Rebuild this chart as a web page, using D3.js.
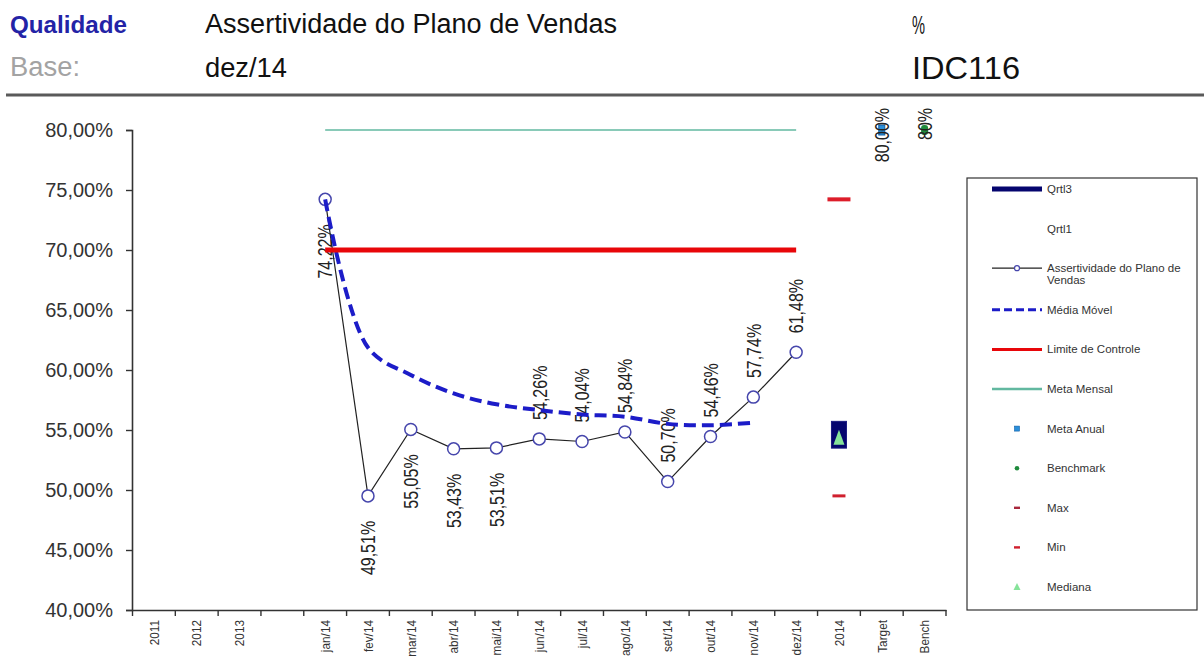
<!DOCTYPE html>
<html><head><meta charset="utf-8">
<script src="https://cdn.jsdelivr.net/npm/d3@7"></script>
<style>
body{margin:0;background:#fff}
svg{display:block;font-family:"Liberation Sans",Arial,sans-serif}
</style>
</head><body>
<svg id="c" width="1204" height="658"></svg>
<script>
// ---------- data ----------
const categories = ["2011","2012","2013"," ","jan/14","fev/14","mar/14","abr/14","mai/14","jun/14","jul/14","ago/14","set/14","out/14","nov/14","dez/14","2014","Target","Bench"];
const months = ["jan/14","fev/14","mar/14","abr/14","mai/14","jun/14","jul/14","ago/14","set/14","out/14","nov/14","dez/14"];
const assertividade = [74.22,49.51,55.05,53.43,53.51,54.26,54.04,54.84,50.70,54.46,57.74,61.48];
const mediaMovelMonths = ["jan/14","fev/14","mar/14","abr/14","mai/14","jun/14","jul/14","ago/14","set/14","out/14","nov/14"];
const mediaMovel = [74.22,61.87,59.59,58.05,57.14,56.66,56.29,56.11,55.51,55.40,55.61];
const limiteControle = [70,70,70,70,70,70,70,70,70,70,70,70];
const metaMensal = [80,80,80,80,80,80,80,80,80,80,80,80];
const labelSide = ["below","below","below","below","below","above","above","above","above","above","above","above"];
const quartil1 = [53.49];
const quartil3 = [55.72];
const mediana = [54.36];
const maximo = [74.22];
const minimo = [49.51];
const metaAnual = [80];
const benchmark = [80];
const yTicks = [40,45,50,55,60,65,70,75,80];
const legendLabels = ["Qrtl3","Qrtl1","Assertividade do Plano de Vendas","Média Móvel","Limite de Controle","Meta Mensal","Meta Anual","Benchmark","Max","Min","Mediana"];

// ---------- setup ----------
const svg = d3.select("#c");
const x = d3.scaleBand().domain(categories).range([132.5, 946]);
const y = d3.scaleLinear().domain([40, 80]).range([610, 130]);
const cx = c => x(c) + x.bandwidth() / 2;
const pct = v => v.toFixed(2).replace(".", ",") + "%";

// ---------- header ----------
const hdr = (tx, xx, yy, size, fill, len, bold) => svg.append("text")
  .attr("x", xx).attr("y", yy).attr("font-size", size).attr("fill", fill)
  .attr("font-weight", bold ? "bold" : null)
  .attr("textLength", len).attr("lengthAdjust", "spacingAndGlyphs").text(tx);
hdr("Qualidade", 10, 33, 23, "#2323a6", 117, true);
hdr("Base:", 10, 76, 27, "#a3a3a3", 70);
hdr("Assertividade do Plano de Vendas", 205, 33, 27, "#111", 412);
hdr("dez/14", 205, 77, 27, "#111", 82);
hdr("%", 912, 34, 25, "#111", 13);
hdr("IDC116", 912, 79, 31, "#111", 108);
svg.append("line").attr("x1", 6).attr("x2", 1204).attr("y1", 95).attr("y2", 95).attr("stroke", "#5a5a5a").attr("stroke-width", 3);

// ---------- axes ----------
const yAxis = svg.append("g").attr("transform", "translate(132,0)")
  .call(d3.axisLeft(y).tickValues(yTicks).tickSize(6).tickPadding(13).tickFormat(pct));
yAxis.select(".domain").attr("stroke", "#333").attr("stroke-width", 1.6);
yAxis.selectAll(".tick line").attr("stroke", "#333").attr("stroke-width", 1.4);
yAxis.selectAll(".tick text").attr("font-size", 20).attr("fill", "#333").attr("font-family", "Liberation Sans, Arial, sans-serif");

const xAxis = svg.append("g").attr("transform", "translate(0,610)")
  .call(d3.axisBottom(x).tickSize(0).tickSizeOuter(0).tickFormat(""));
xAxis.select(".domain").attr("stroke", "#333").attr("stroke-width", 1.6);
const bounds = categories.map(c => x(c)).concat([x.range()[1]]);
svg.append("g").selectAll("line").data(bounds).join("line")
  .attr("x1", d => d).attr("x2", d => d).attr("y1", 610).attr("y2", 616)
  .attr("stroke", "#333").attr("stroke-width", 1.4);
svg.append("g").selectAll("text").data(categories).join("text")
  .attr("transform", d => `translate(${cx(d)},620) scale(1.15,1) rotate(-90)`)
  .attr("text-anchor", "end").attr("dy", "0.35em")
  .attr("font-size", 11.8).attr("fill", "#333").text(d => d);

// ---------- series ----------
const pts = months.map((m, i) => ({m, v: assertividade[i], side: labelSide[i]}));

svg.append("path").datum(pts)
  .attr("d", d3.line().x(d => cx(d.m)).y(d => y(d.v)))
  .attr("fill", "none").attr("stroke", "#222").attr("stroke-width", 1.2);
svg.append("g").selectAll("circle").data(pts).join("circle")
  .attr("cx", d => cx(d.m)).attr("cy", d => y(d.v)).attr("r", 6)
  .attr("fill", "#fff").attr("stroke", "#4646ac").attr("stroke-width", 1.5);

svg.append("g").selectAll("text").data(pts).join("text")
  .attr("transform", d => {
    const yy = d.side === "below" ? y(d.v) + 25 : y(d.v) - 19;
    return `translate(${cx(d.m)},${yy}) scale(1.3,1) rotate(-90)`;
  })
  .attr("text-anchor", d => d.side === "below" ? "end" : "start")
  .attr("dy", "0.35em").attr("font-size", 16).attr("fill", "#222")
  .text(d => pct(d.v));

svg.append("path").datum(mediaMovelMonths.map((m, i) => ({m, v: mediaMovel[i]})))
  .attr("d", d3.line().x(d => cx(d.m)).y(d => y(d.v)).curve(d3.curveCatmullRom.alpha(0.5)))
  .attr("fill", "none").attr("stroke", "#1c1cc8").attr("stroke-width", 4).attr("stroke-dasharray", "12 6");

svg.append("path").datum(months.map((m, i) => ({m, v: limiteControle[i]})))
  .attr("d", d3.line().x(d => cx(d.m)).y(d => y(d.v)))
  .attr("fill", "none").attr("stroke", "#e8060a").attr("stroke-width", 5);

svg.append("path").datum(months.map((m, i) => ({m, v: metaMensal[i]})))
  .attr("d", d3.line().x(d => cx(d.m)).y(d => y(d.v)))
  .attr("fill", "none").attr("stroke", "#62b8a0").attr("stroke-width", 1.6);

// ---------- 2014 summary ----------
const c14 = cx("2014");
svg.append("g").selectAll("rect").data(quartil3).join("rect")
  .attr("x", c14 - 7.5).attr("width", 15)
  .attr("y", d => y(d)).attr("height", d => y(quartil1[0]) - y(d))
  .attr("fill", "#05056e").attr("stroke", "#1a1a80").attr("stroke-width", 1);
svg.append("g").selectAll("path").data(mediana).join("path")
  .attr("d", d => `M${c14},${y(d) - 8}L${c14 + 5.5},${y(d) + 7}L${c14 - 5.5},${y(d) + 7}Z`)
  .attr("fill", "#86e39a");
svg.append("g").selectAll("rect").data(maximo).join("rect")
  .attr("x", c14 - 11.5).attr("width", 23).attr("y", d => y(d) - 2).attr("height", 4).attr("fill", "#dd1d2a");
svg.append("g").selectAll("rect").data(minimo).join("rect")
  .attr("x", c14 - 6.5).attr("width", 13).attr("y", d => y(d) - 1.5).attr("height", 3).attr("fill", "#d0202e");

// Target / Bench
const cT = cx("Target"), cB = cx("Bench");
svg.append("g").selectAll("rect").data(metaAnual).join("rect")
  .attr("x", cT - 3).attr("width", 6).attr("y", d => y(d) - 5).attr("height", 10)
  .attr("fill", "#2a8fda").attr("stroke", "#1060a8").attr("stroke-width", 1);
svg.append("g").selectAll("text").data(metaAnual).join("text")
  .attr("transform", d => `translate(${cT},${y(d) - 22}) scale(1.3,1) rotate(-90)`)
  .attr("text-anchor", "end").attr("dy", "0.35em").attr("font-size", 16).attr("fill", "#222")
  .text(d => pct(d));
svg.append("g").selectAll("rect").data(benchmark).join("rect")
  .attr("x", cB - 3.5).attr("width", 7).attr("y", d => y(d) - 5).attr("height", 10).attr("rx", 3)
  .attr("fill", "#1f8a3c");
svg.append("g").selectAll("text").data(benchmark).join("text")
  .attr("transform", d => `translate(${cB},${y(d) - 22}) scale(1.3,1) rotate(-90)`)
  .attr("text-anchor", "end").attr("dy", "0.35em").attr("font-size", 16).attr("fill", "#222")
  .text(d => d + "%");

// ---------- legend ----------
const lg = svg.append("g");
lg.append("rect").attr("x", 967).attr("y", 178).attr("width", 230).attr("height", 432)
  .attr("fill", "#fff").attr("stroke", "#333").attr("stroke-width", 1.2);
const rowY = i => 189 + i * 39.6 + (i >= 3 ? 2 : 0);
const lx1 = 992, lx2 = 1042, lmid = 1017, ltx = 1047;
legendLabels.forEach((lab, i) => {
  const yy = rowY(i);
  if (i === 2) {
    lg.append("text").attr("x", ltx).attr("y", yy).attr("dy", "0.35em").attr("font-size", 11.5).attr("fill", "#333").text("Assertividade do Plano de");
    lg.append("text").attr("x", ltx).attr("y", yy + 12).attr("dy", "0.35em").attr("font-size", 11.5).attr("fill", "#333").text("Vendas");
  } else {
    lg.append("text").attr("x", ltx).attr("y", yy).attr("dy", "0.35em").attr("font-size", 11.5).attr("fill", "#333").text(lab);
  }
  const line = (col, w, dash) => lg.append("line").attr("x1", lx1).attr("x2", lx2).attr("y1", yy).attr("y2", yy)
    .attr("stroke", col).attr("stroke-width", w).attr("stroke-dasharray", dash || null);
  if (i === 0) line("#05056e", 5);
  if (i === 2) { line("#222", 1.2); lg.append("circle").attr("cx", lmid).attr("cy", yy).attr("r", 2.5).attr("fill", "#fff").attr("stroke", "#4646ac").attr("stroke-width", 1.2); }
  if (i === 3) line("#1c1cc8", 3, "8 4");
  if (i === 4) line("#e8060a", 3);
  if (i === 5) line("#62b8a0", 2.5);
  if (i === 6) lg.append("rect").attr("x", lmid - 2.5).attr("y", yy - 2.5).attr("width", 5).attr("height", 5).attr("fill", "#2a8fda").attr("stroke", "#1060a8").attr("stroke-width", 0.6);
  if (i === 7) lg.append("circle").attr("cx", lmid).attr("cy", yy).attr("r", 2.3).attr("fill", "#1f8a3c");
  if (i === 8) lg.append("rect").attr("x", lmid - 3).attr("y", yy - 1.2).attr("width", 6).attr("height", 2.4).attr("fill", "#a8283c");
  if (i === 9) lg.append("rect").attr("x", lmid - 3).attr("y", yy - 1.2).attr("width", 6).attr("height", 2.4).attr("fill", "#d0202e");
  if (i === 10) lg.append("path").attr("d", `M${lmid},${yy - 4}L${lmid + 3.5},${yy + 3}L${lmid - 3.5},${yy + 3}Z`).attr("fill", "#86e39a");
});
</script>
</body></html>
